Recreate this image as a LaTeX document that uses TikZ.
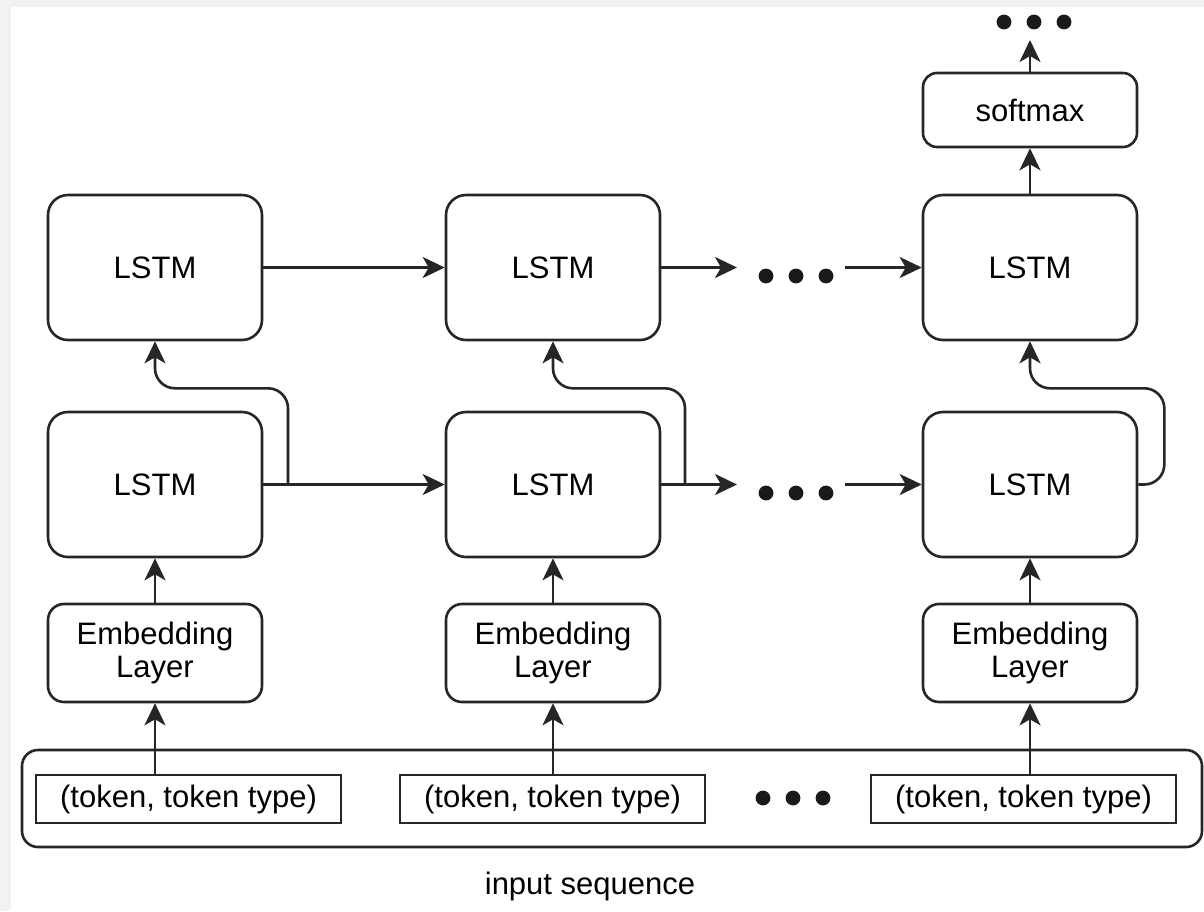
\documentclass[tikz,border=0pt]{standalone}
\usepackage{fontspec}
\setmainfont{Liberation Sans}
\usetikzlibrary{arrows.meta,calc}

\tikzset{
  box/.style={draw=black!85, line width=1.3pt, rounded corners=10pt, fill=white,
    inner sep=0pt, font=\fontsize{15.5}{16.5}\selectfont},
  lstm/.style={box, minimum width=107pt, minimum height=72.5pt},
  embed/.style={box, rounded corners=8pt, minimum width=107pt, minimum height=49pt, align=center},
  smax/.style={box, rounded corners=7pt, minimum width=107pt, minimum height=37pt},
  tok/.style={box, rounded corners=0pt, minimum width=152.5pt, minimum height=24pt},
  arr/.style={draw=black!85, line width=1.3pt, -{Stealth[length=11pt,width=10.5pt,inset=3pt]}},
}
\newcommand{\dotrow}[3]{% name, x, y
  \coordinate (#1) at (#2,#3);
  \foreach \i in {-1,0,1}
    \fill[black!90] ($(#1)+(\i*30,0)$) circle (3.7pt);
}

\begin{document}
\begin{tikzpicture}[x=0.5pt,y=-0.5pt]
\useasboundingbox (0,0) rectangle (1204,911);
\fill[gray!10] (0,0) rectangle (1204,911);
\fill[white] (11,7) rectangle (1204,911);

% input sequence
\node[box, rounded corners=8pt, minimum width=590pt, minimum height=48.5pt] (seq) at (612,798.5) {};
\node[font=\fontsize{15.5}{16.5}\selectfont] (seqlabel) at (590,886) {input sequence};
\node[tok] (T1) at (188.5,799) {(token, token type)};
\node[tok] (T2) at (552.5,799) {(token, token type)};
\node[tok] (T3) at (1023.5,799) {(token, token type)};
\dotrow{dC}{793}{798}

% embedding layers
\node[embed] (E1) at (155,653) {Embedding\\Layer};
\node[embed] (E2) at (553,653) {Embedding\\Layer};
\node[embed] (E3) at (1030,653) {Embedding\\Layer};

% LSTM layers
\node[lstm] (B1) at (155,484.5) {LSTM};
\node[lstm] (B2) at (553,484.5) {LSTM};
\node[lstm] (B3) at (1030,484.5) {LSTM};
\node[lstm] (A1) at (155,267.5) {LSTM};
\node[lstm] (A2) at (553,267.5) {LSTM};
\node[lstm] (A3) at (1030,267.5) {LSTM};
\node[smax] (S) at (1030,110) {softmax};

\dotrow{dA}{796}{276}
\dotrow{dB}{796}{493}
\dotrow{dD}{1034}{22}
\coordinate (dAin) at (737,267.5);
\coordinate (dAout) at (845,267.5);
\coordinate (dBin) at (737,484.5);
\coordinate (dBout) at (845,484.5);
\coordinate (dDin) at (1030,40);
\coordinate (j1) at (288,484.5);
\coordinate (j2) at (685,484.5);

% inputs
\draw[arr] (T1.north -| E1) -- (E1.south);
\draw[arr] (T2.north -| E2) -- (E2.south);
\draw[arr] (T3.north -| E3) -- (E3.south);
\draw[arr] (E1) -- (B1);
\draw[arr] (E2) -- (B2);
\draw[arr] (E3) -- (B3);

% recurrent links
\draw[arr] (B1) -- (B2);
\draw[arr] (B2.east) -- (dBin);
\draw[arr] (dBout) -- (B3.west);
\draw[arr] (A1) -- (A2);
\draw[arr] (A2.east) -- (dAin);
\draw[arr] (dAout) -- (A3.west);

% skip up to second layer
\draw[arr, rounded corners=10pt] (j1) |- ([yshift=-23.5pt]A1.south) -- (A1.south);
\draw[arr, rounded corners=10pt] (j2) |- ([yshift=-23.5pt]A2.south) -- (A2.south);
\draw[arr, rounded corners=10pt] (B3.east) -- ++(26,0) |- ([yshift=-23.5pt]A3.south) -- (A3.south);

% output
\draw[arr] (A3) -- (S);
\draw[arr] (S.north) -- (dDin);
\end{tikzpicture}
\end{document}
